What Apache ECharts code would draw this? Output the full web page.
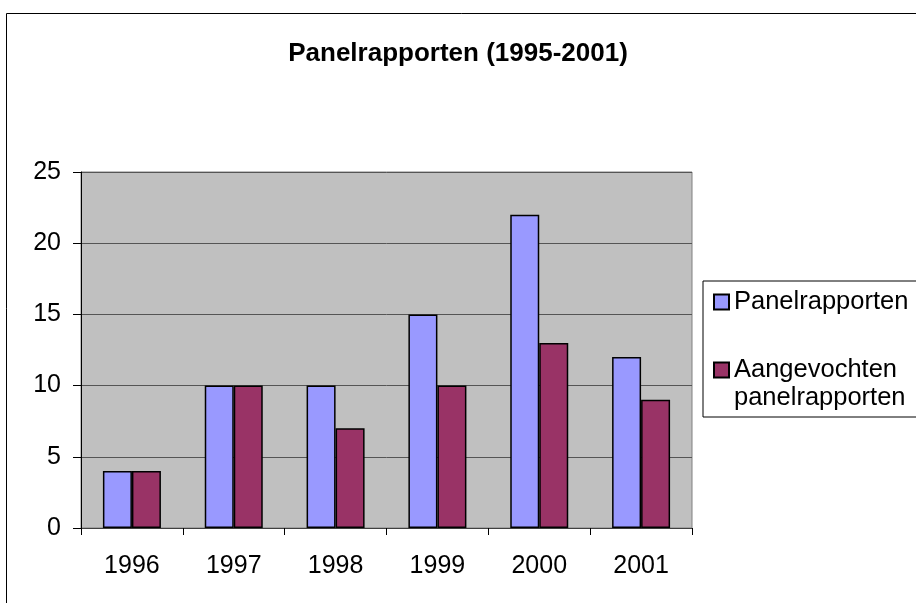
<!DOCTYPE html>
<html>
<head>
<meta charset="utf-8">
<script src="https://cdn.jsdelivr.net/npm/echarts@6/dist/echarts.min.js"></script>
<style>html,body{margin:0;padding:0;background:#fff}#c{width:916px;height:603px}</style>
</head>
<body>
<div id="c"></div>
<script>
var categories = ['1996', '1997', '1998', '1999', '2000', '2001'];
var panelrapporten = [4, 10, 10, 15, 22, 12];
var aangevochten = [4, 10, 7, 10, 13, 9];
var seriesNames = ['Panelrapporten', 'Aangevochten\npanelrapporten'];
var titleText = 'Panelrapporten (1995-2001)';

var chart = echarts.init(document.getElementById('c'));
var font = 'Liberation Sans, Arial, sans-serif';
chart.setOption({
  animation: false,
  backgroundColor: '#fff',
  textStyle: { fontFamily: font },
  graphic: [{
    type: 'rect', left: 4, top: 11, silent: true,
    shape: { x: 0, y: 0, width: 1000, height: 1000 },
    style: { fill: 'none', stroke: '#000', lineWidth: 1 }
  }],
  title: {
    text: titleText, left: 'center', top: 36,
    textStyle: { fontFamily: font, fontSize: 26, fontWeight: 'bold', color: '#000' }
  },
  legend: {
    orient: 'vertical', left: 703, top: 281,
    data: seriesNames,
    formatter: function (name) {
      // keep the icon level with the first line of a two-line label
      return name.indexOf('\n') >= 0 ? ' \n' + name : name;
    },
    borderColor: '#000', borderWidth: 1, borderRadius: 0,
    padding: [7, 40, 5, 10],
    itemWidth: 15, itemHeight: 15, itemGap: 12, itemTextGap: 13,
    icon: 'rect',
    textStyle: { fontFamily: font, fontSize: 25.5, color: '#000', lineHeight: 28 }
  },
  grid: { left: 81, right: 224, top: 172, bottom: 75, show: true, backgroundColor: '#C0C0C0', borderColor: '#808080', borderWidth: 1 },
  xAxis: {
    type: 'category', data: categories,
    axisLine: { lineStyle: { color: '#404040', width: 1 } },
    axisTick: { show: true, length: 7, lineStyle: { color: '#000' } },
    axisLabel: { fontFamily: font, fontSize: 25, color: '#000', margin: 26 }
  },
  yAxis: {
    type: 'value', min: 0, max: 25, interval: 5,
    axisLine: { show: true, lineStyle: { color: '#000', width: 1 } },
    axisTick: { show: true, length: 8, lineStyle: { color: '#000' } },
    axisLabel: { fontFamily: font, fontSize: 25, color: '#000', margin: 20 },
    splitLine: { show: true, lineStyle: { color: '#555', width: 1 } }
  },
  series: [{
    name: seriesNames[0], type: 'bar', data: panelrapporten,
    barWidth: 29, barGap: '0%',
    itemStyle: { color: '#9999FF', borderColor: '#000', borderWidth: 1.5 }
  }, {
    name: seriesNames[1], type: 'bar', data: aangevochten,
    barWidth: 29, barGap: '0%',
    itemStyle: { color: '#993366', borderColor: '#000', borderWidth: 1.5 }
  }]
});
</script>
</body>
</html>
